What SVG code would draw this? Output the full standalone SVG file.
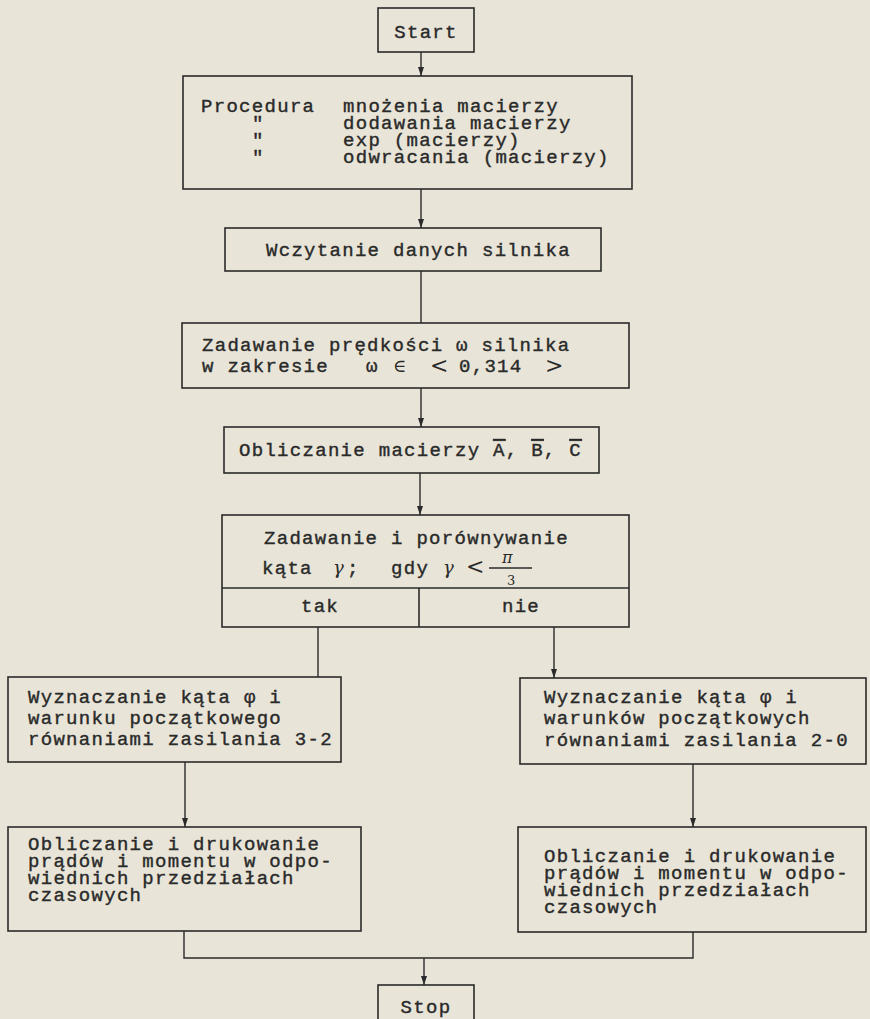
<svg xmlns="http://www.w3.org/2000/svg" width="870" height="1019" viewBox="0 0 870 1019">
<style>
.bg{fill:#e8e5d8}
.box{fill:none;stroke:#2a2a2a;stroke-width:1.6}
.t{font-family:"Liberation Mono","DejaVu Sans Mono",monospace;font-size:19px;fill:#2a2a2a;stroke:#2a2a2a;stroke-width:0.4;letter-spacing:1.3px}
.m{font-family:"DejaVu Serif","Liberation Serif",serif;fill:#2a2a2a}
.c{stroke:#2a2a2a;stroke-width:1.4;fill:none}
.ov{text-decoration:overline}
</style>
<defs>
<marker id="ar" markerUnits="userSpaceOnUse" markerWidth="9" markerHeight="6" refX="9" refY="3" orient="auto">
<path d="M0,0 L9,3 L0,6 z" fill="#2a2a2a"/>
</marker>
</defs>
<rect class="bg" x="0" y="0" width="870" height="1019"/>
<g id="connectors">
<line class="c" x1="421" y1="52" x2="421" y2="76" marker-end="url(#ar)"/>
<line class="c" x1="421" y1="189" x2="421" y2="228" marker-end="url(#ar)"/>
<line class="c" x1="421" y1="271" x2="421" y2="323"/>
<line class="c" x1="421" y1="388" x2="421" y2="427" marker-end="url(#ar)"/>
<line class="c" x1="420" y1="473" x2="420" y2="515" marker-end="url(#ar)"/>
<line class="c" x1="318" y1="627" x2="318" y2="677"/>
<line class="c" x1="554" y1="627" x2="554" y2="678" marker-end="url(#ar)"/>
<line class="c" x1="185" y1="762" x2="185" y2="827" marker-end="url(#ar)"/>
<line class="c" x1="693" y1="764" x2="693" y2="827" marker-end="url(#ar)"/>
<path class="c" d="M184,931 V958 H693 V932"/>
<line class="c" x1="424" y1="958" x2="424" y2="985" marker-end="url(#ar)"/>
</g>
<g id="start">
<rect class="box" x="378" y="8" width="96" height="44"/>
<text class="t" x="426" y="38" text-anchor="middle">Start</text>
</g>
<g id="procedury">
<rect class="box" x="183" y="76" width="449" height="113"/>
<text class="t" x="201" y="112">Procedura</text>
<text class="t" x="252" y="129">"<tspan x="252" dy="17">"</tspan><tspan x="252" dy="17">"</tspan></text>
<text class="t" x="343" y="112">mnożenia macierzy<tspan x="343" dy="17">dodawania macierzy</tspan><tspan x="343" dy="17">exp (macierzy)</tspan><tspan x="343" dy="17">odwracania (macierzy)</tspan></text>
</g>
<g id="wczytanie">
<rect class="box" x="225" y="228" width="376" height="43"/>
<text class="t" x="266" y="256">Wczytanie danych silnika</text>
</g>
<g id="predkosc">
<rect class="box" x="182" y="323" width="447" height="65"/>
<text class="t" x="202" y="351">Zadawanie prędkości ω silnika<tspan x="202" dy="21">w zakresie</tspan><tspan x="366">ω</tspan><tspan x="459">0,314</tspan></text>
<text class="m" x="393" y="372" font-size="18">∈</text>
<text class="m" x="430" y="373" font-size="22">&lt;</text>
<text class="m" x="545" y="373" font-size="22">&gt;</text>
</g>
<g id="macierze">
<rect class="box" x="224" y="427" width="375" height="46"/>
<text class="t" x="239" y="456">Obliczanie macierzy <tspan class="ov">A</tspan>, <tspan class="ov">B</tspan>, <tspan class="ov">C</tspan></text>
</g>
<g id="kat">
<rect class="box" x="222" y="515" width="407" height="112"/>
<line class="box" x1="222" y1="588" x2="629" y2="588"/>
<line class="box" x1="419" y1="588" x2="419" y2="627"/>
<text class="t" x="264" y="544">Zadawanie i porównywanie<tspan x="262" dy="30">kąta</tspan><tspan x="347">;</tspan><tspan x="391">gdy</tspan></text>
<text class="m" x="333" y="574" font-size="18" font-style="italic">γ</text>
<text class="m" x="443" y="574" font-size="18" font-style="italic">γ</text>
<text class="m" x="466" y="574" font-size="22">&lt;</text>
<text class="m" x="502" y="563" font-size="16" font-style="italic">π</text>
<line class="c" x1="489" y1="568" x2="532" y2="568"/>
<text class="m" x="507" y="585" font-size="13">3</text>
<text class="t" x="320" y="612" text-anchor="middle">tak</text>
<text class="t" x="521" y="612" text-anchor="middle">nie</text>
</g>
<g id="wyzn32">
<rect class="box" x="8" y="677" width="333" height="85"/>
<text class="t" x="28" y="703">Wyznaczanie kąta φ i<tspan x="28" dy="21">warunku początkowego</tspan><tspan x="28" dy="21">równaniami zasilania 3-2</tspan></text>
</g>
<g id="wyzn20">
<rect class="box" x="520" y="678" width="346" height="86"/>
<text class="t" x="544" y="703">Wyznaczanie kąta φ i<tspan x="544" dy="21">warunków początkowych</tspan><tspan x="544" dy="22">równaniami zasilania 2-0</tspan></text>
</g>
<g id="druk1">
<rect class="box" x="8" y="827" width="353" height="104"/>
<text class="t" x="28" y="850">Obliczanie i drukowanie<tspan x="28" dy="17">prądów i momentu w odpo-</tspan><tspan x="28" dy="17">wiednich przedziałach</tspan><tspan x="28" dy="17">czasowych</tspan></text>
</g>
<g id="druk2">
<rect class="box" x="518" y="827" width="348" height="105"/>
<text class="t" x="544" y="862">Obliczanie i drukowanie<tspan x="544" dy="17">prądów i momentu w odpo-</tspan><tspan x="544" dy="17">wiednich przedziałach</tspan><tspan x="544" dy="17">czasowych</tspan></text>
</g>
<g id="stop">
<rect class="box" x="378" y="985" width="96" height="40"/>
<text class="t" x="426" y="1013" text-anchor="middle">Stop</text>
</g>
</svg>
